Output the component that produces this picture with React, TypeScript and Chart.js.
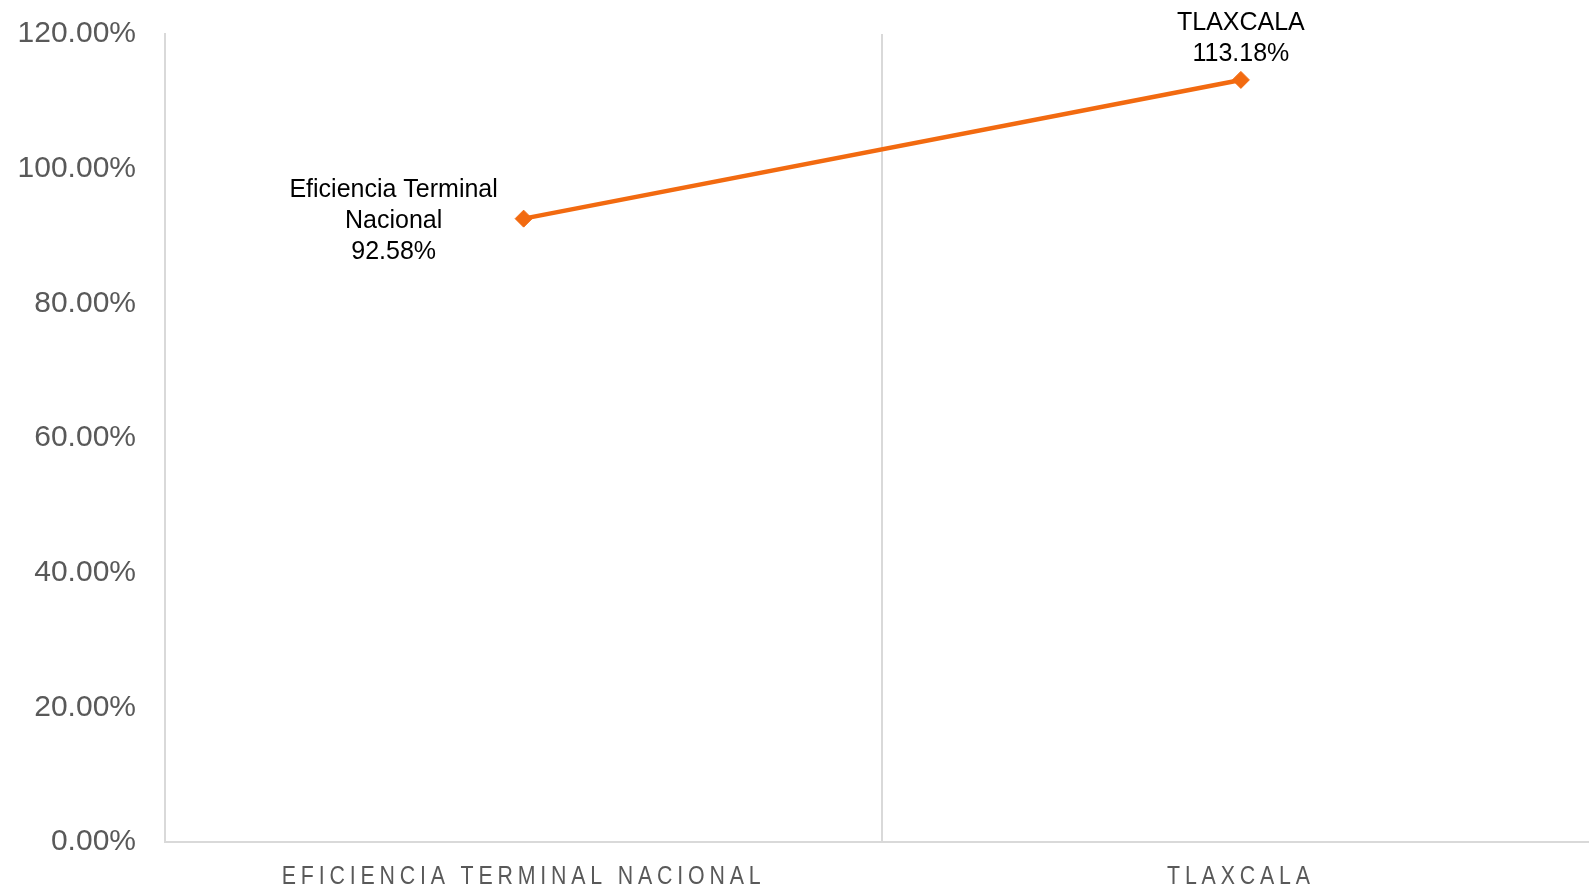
import React, { useEffect, useRef } from "react";
import { Chart, registerables } from "chart.js";

Chart.register(...registerables);

const categories = ["EFICIENCIA TERMINAL NACIONAL", "TLAXCALA"];
const labelNames = [["Eficiencia Terminal", "Nacional"], ["TLAXCALA"]];
const values = [92.58, 113.18];
const yTicks = [0, 20, 40, 60, 80, 100, 120];

const ORANGE = "#F26A10";
const GRID = "#D9D9D9";

const pointLabelsPlugin = {
  id: "pointLabels",
  afterDraw(chart: any) {
    const ctx = chart.ctx;
    const meta = chart.getDatasetMeta(0);
    ctx.save();
    ctx.fillStyle = "#000000";
    ctx.font = "25px 'Liberation Sans', Arial, sans-serif";
    ctx.textAlign = "center";
    ctx.textBaseline = "middle";
    const lh = 31;
    meta.data.forEach((pt: any, i: number) => {
      const lines = [...labelNames[i], values[i].toFixed(2) + "%"];
      if (i === 0) {
        const cx = pt.x - 130;
        const startY = pt.y + 2 - ((lines.length - 1) * lh) / 2;
        lines.forEach((l, k) => ctx.fillText(l, cx, startY + k * lh));
      } else {
        const bottomY = pt.y - 26;
        lines.forEach((l, k) => ctx.fillText(l, pt.x, bottomY - (lines.length - 1 - k) * lh));
      }
    });
    ctx.restore();
    // x category labels, condensed with letter spacing
    const xs = chart.scales.x;
    categories.forEach((c, i) => {
      const x = xs.getPixelForTick(i);
      ctx.save();
      ctx.fillStyle = "#595959";
      ctx.font = "26px 'Liberation Sans', Arial, sans-serif";
      (ctx as any).letterSpacing = "5.9px";
      ctx.textAlign = "center";
      ctx.textBaseline = "middle";
      ctx.translate(x, 877);
      ctx.scale(0.82, 1);
      ctx.fillText(c, 0, 0);
      ctx.restore();
    });
  },
};

export default function App() {
  const ref = useRef<HTMLCanvasElement>(null);
  useEffect(() => {
    document.body.style.margin = "0";
    const chart = new Chart(ref.current!, {
      type: "line",
      data: {
        labels: categories,
        datasets: [
          {
            data: values,
            borderColor: ORANGE,
            backgroundColor: ORANGE,
            borderWidth: 4.5,
            pointStyle: "rectRot",
            pointRadius: 8.5,
            pointHoverRadius: 8.5,
            pointBackgroundColor: ORANGE,
            pointBorderColor: ORANGE,
            pointBorderWidth: 1,
            tension: 0,
          },
        ],
      },
      options: {
        animation: false,
        responsive: false,
        maintainAspectRatio: false,
        layout: { padding: { top: 34, left: 0, right: 0, bottom: 0 } },
        plugins: { legend: { display: false }, tooltip: { enabled: false } },
        scales: {
          x: {
            offset: true,
            grid: { display: true, color: GRID, lineWidth: 2, drawTicks: false, offset: true },
            border: { display: true, color: GRID, width: 2 },
            ticks: {
              color: "rgba(0,0,0,0)",
              font: { family: "'Liberation Sans', sans-serif", size: 26, lineHeight: 1 },
              padding: 22,
              maxRotation: 0,
              autoSkip: false,
            },
            afterFit: (s: any) => {
              s.height = 46;
            },
          },
          y: {
            min: 0,
            max: 120,
            afterBuildTicks: (s: any) => {
              s.ticks = yTicks.map((v) => ({ value: v }));
            },
            afterFit: (s: any) => {
              s.width = 165;
            },
            grid: {
              display: true,
              drawOnChartArea: false,
              drawTicks: true,
              tickLength: 29,
              tickColor: "rgba(0,0,0,0)",
              color: "rgba(0,0,0,0)",
            },
            border: { display: true, color: GRID, width: 2 },
            ticks: {
              color: "#595959",
              font: { family: "'Liberation Sans', Arial, sans-serif", size: 30 },
              padding: 0,
              callback: (v: any) => Number(v).toFixed(2) + "%",
            },
          },
        },
      },
      plugins: [pointLabelsPlugin],
    });
    return () => chart.destroy();
  }, []);
  return (
    <div style={{ position: "fixed", left: 0, top: 0, width: 1589, height: 888, overflow: "hidden", background: "#fff" }}>
      <canvas ref={ref} width={1609} height={888} style={{ width: 1609, height: 888, display: "block" }} />
    </div>
  );
}
